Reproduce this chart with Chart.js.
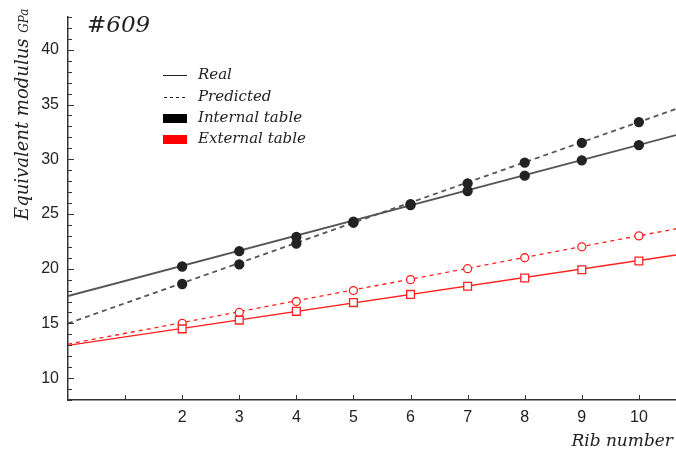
<!DOCTYPE html>
<html>
<head>
<meta charset="utf-8">
<script src="https://cdn.jsdelivr.net/npm/chart.js@4.4.0/dist/chart.umd.min.js"></script>
<style>
body { margin: 0; background: #fff; }
</style>
</head>
<body>
<canvas id="chart" width="676" height="455"></canvas>
<script>
// rib numbers and measured / predicted moduli (GPa)
const ribs = [2, 3, 4, 5, 6, 7, 8, 9, 10];
const internalReal = [20.2, 21.6, 22.9, 24.3, 25.8, 27.1, 28.5, 29.9, 31.3];
const internalPredicted = [18.6, 20.4, 22.3, 24.2, 25.9, 27.8, 29.7, 31.5, 33.4];
const externalReal = [14.5, 15.3, 16.1, 16.9, 17.65, 18.4, 19.15, 19.9, 20.7];
const externalPredicted = [15.0, 16.0, 17.0, 18.0, 19.0, 20.0, 21.0, 22.0, 23.0];

// fitted lines, read at both ends of the axis
const fitX = [0, 10.65];
const internalRealFit = [17.5, 32.2];
const internalPredictedFit = [15.0, 34.6];
const externalRealFit = [13.0, 21.25];
const externalPredictedFit = [13.1, 23.65];

const yTicks = [10, 15, 20, 25, 30, 35, 40];
const xLabels = [2, 3, 4, 5, 6, 7, 8, 9, 10];

const SERIF = '"DejaVu Serif", serif';
const SANS = '"Liberation Sans", Arial, sans-serif';

const pts = (xs, ys) => xs.map((x, i) => ({ x: x, y: ys[i] }));

const markerSet = (ys, style, fill, stroke, radius) => ({
    data: pts(ribs, ys),
    showLine: false,
    pointStyle: style,
    pointRadius: radius,
    pointBackgroundColor: fill,
    pointBorderColor: stroke,
    pointBorderWidth: 1.3
});

const fitSet = (ys, color, width, dash) => ({
    data: pts(fitX, ys),
    showLine: true,
    borderColor: color,
    borderWidth: width,
    borderDash: dash,
    pointRadius: 0
});

const decorations = {
    id: 'decorations',
    afterDraw(chart) {
        const ctx = chart.ctx;
        const xs = chart.scales.x, ys = chart.scales.y;
        const area = chart.chartArea;
        ctx.save();
        // inside tick marks
        ctx.strokeStyle = '#333';
        ctx.lineWidth = 1;
        ys.ticks.forEach(t => {
            if (!Number.isInteger(t.value)) return;
            const y = Math.round(ys.getPixelForValue(t.value)) + 0.5;
            const len = t.value % 5 === 0 ? 6 : 4;
            ctx.beginPath();
            ctx.moveTo(area.left, y);
            ctx.lineTo(area.left + len, y);
            ctx.stroke();
        });
        xs.ticks.forEach(t => {
            if (!Number.isInteger(t.value) || t.value === 0) return;
            const x = Math.round(xs.getPixelForValue(t.value)) + 0.5;
            ctx.beginPath();
            ctx.moveTo(x, area.bottom);
            ctx.lineTo(x, area.bottom - 5);
            ctx.stroke();
        });

        // title
        ctx.fillStyle = '#222';
        ctx.textBaseline = 'alphabetic';
        ctx.textAlign = 'left';
        ctx.font = 'italic 23px ' + SERIF;
        ctx.fillText('#609', 87, 32);

        // x axis title
        ctx.font = 'italic 17px ' + SERIF;
        ctx.textAlign = 'right';
        ctx.fillText('Rib number', 673, 446);

        // y axis title
        ctx.save();
        ctx.translate(28, 220);
        ctx.rotate(-Math.PI / 2);
        ctx.textAlign = 'left';
        ctx.font = 'italic 18px ' + SERIF;
        ctx.fillText('Equivalent modulus', 0, 0);
        const w = ctx.measureText('Equivalent modulus ').width;
        ctx.font = 'italic 12px ' + SERIF;
        ctx.fillText('GPa', w, 0);
        ctx.restore();

        // legend
        ctx.font = 'italic 15px ' + SERIF;
        ctx.textAlign = 'left';
        ctx.textBaseline = 'middle';
        ctx.strokeStyle = '#222';
        ctx.lineWidth = 1;
        ctx.beginPath();
        ctx.moveTo(163, 75.5);
        ctx.lineTo(187, 75.5);
        ctx.stroke();
        ctx.setLineDash([3, 3]);
        ctx.beginPath();
        ctx.moveTo(164, 97.5);
        ctx.lineTo(187, 97.5);
        ctx.stroke();
        ctx.setLineDash([]);
        ctx.fillStyle = '#000';
        ctx.fillRect(163, 114, 24, 9);
        ctx.fillStyle = '#ff0000';
        ctx.fillRect(163, 135, 24, 9);
        ctx.fillStyle = '#222';
        ctx.fillText('Real', 198, 75);
        ctx.fillText('Predicted', 198, 97);
        ctx.fillText('Internal table', 198, 118);
        ctx.fillText('External table', 198, 139);
        ctx.restore();
    }
};

new Chart(document.getElementById('chart'), {
    type: 'scatter',
    data: {
        datasets: [
            markerSet(internalReal, 'circle', '#222', '#222', 4.5),
            markerSet(internalPredicted, 'circle', '#222', '#222', 4.5),
            markerSet(externalReal, 'rect', '#fff', '#ff2020', 5.5),
            markerSet(externalPredicted, 'circle', '#fff', '#ff2020', 4),
            fitSet(internalRealFit, '#555', 1.8, []),
            fitSet(internalPredictedFit, '#555', 1.8, [5, 4]),
            fitSet(externalRealFit, '#ff2020', 1.3, []),
            fitSet(externalPredictedFit, '#ff2020', 1.3, [4, 4])
        ]
    },
    options: {
        responsive: false,
        animation: false,
        layout: { autoPadding: false, padding: { top: 17, right: 0, left: 0, bottom: 0 } },
        plugins: {
            legend: { display: false },
            tooltip: { enabled: false }
        },
        scales: {
            x: {
                type: 'linear',
                min: fitX[0],
                max: fitX[1],
                grid: { display: false, drawTicks: false },
                border: { display: true, color: '#333', width: 1.5 },
                ticks: {
                    stepSize: 1,
                    includeBounds: false,
                    autoSkip: false,
                    maxRotation: 0,
                    padding: 8,
                    color: '#222',
                    font: { family: SANS, size: 16 },
                    callback: v => xLabels.includes(v) ? String(v) : ''
                },
                afterFit: s => { s.height = 55; s.paddingRight = 0; s.paddingLeft = 0; }
            },
            y: {
                min: 8,
                max: 43,
                grid: { display: false, drawTicks: false },
                border: { display: true, color: '#333', width: 1.5 },
                ticks: {
                    stepSize: 1,
                    padding: 9,
                    autoSkip: false,
                    color: '#222',
                    font: { family: SANS, size: 16 },
                    callback: v => yTicks.includes(v) ? String(v) : ''
                },
                afterFit: s => { s.width = 68; s.paddingTop = 0; s.paddingBottom = 0; }
            }
        }
    },
    plugins: [decorations]
});
</script>
</body>
</html>
